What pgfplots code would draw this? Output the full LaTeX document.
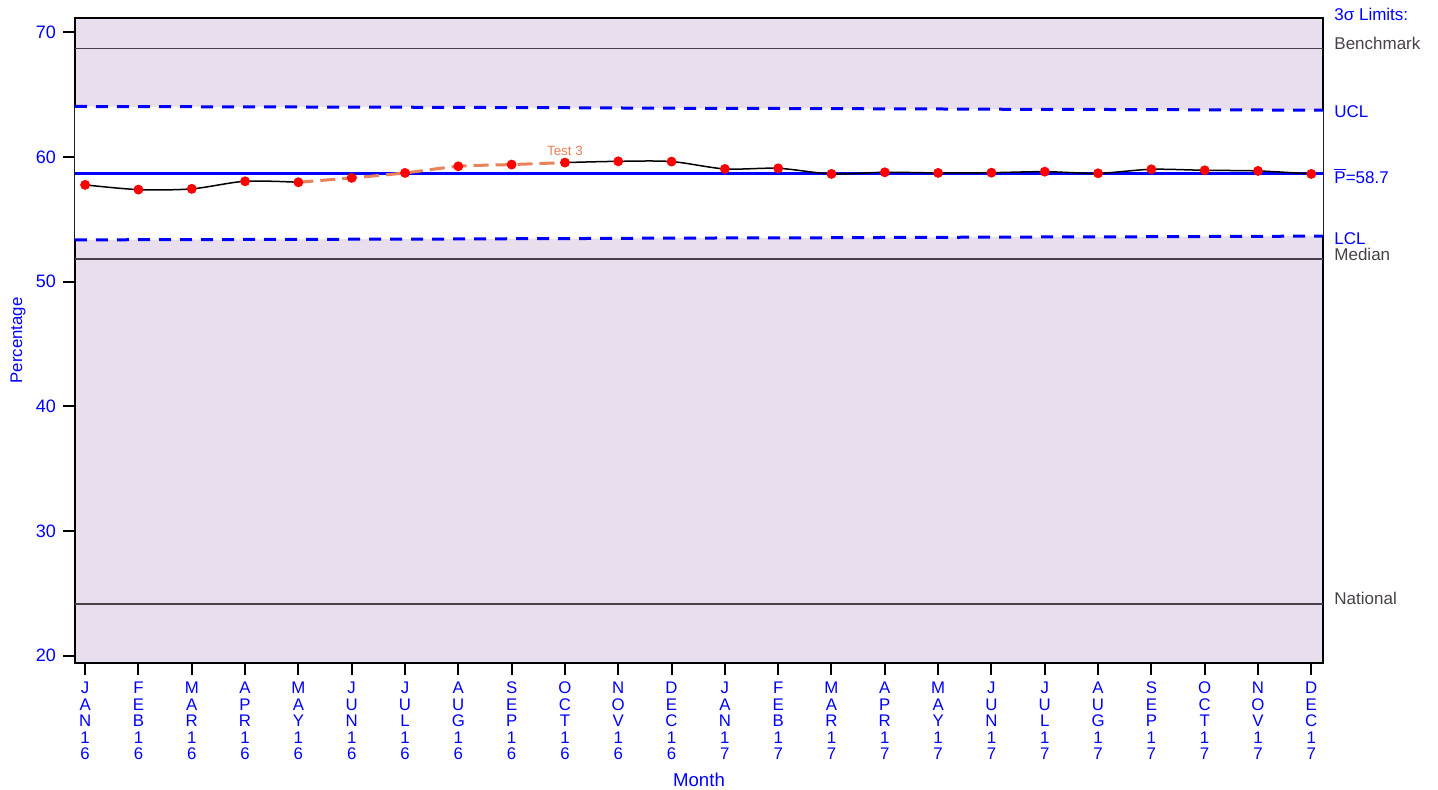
\documentclass[border=0pt]{standalone}
\usepackage{pgfplots}
\pgfplotsset{compat=1.18}
\usepackage{fontspec}
\setmainfont{Liberation Sans}
\definecolor{bgpurple}{RGB}{233,222,238}
\definecolor{refgray}{RGB}{72,64,72}
\definecolor{testorange}{RGB}{233,130,90}
\begin{document}
\begin{tikzpicture}
\begin{axis}[
  name=ax,
  scale only axis, width=624pt, height=322.5pt,
  xmin=-0.19, xmax=23.22, ymin=19.4, ymax=71.15,
  clip=false,
  axis background/.style={fill=bgpurple},
  axis line style={line width=1.3pt, black},
  tick align=outside, major tick length=6pt,
  tick style={line width=1pt, black},
  xtick pos=bottom, ytick pos=left,
  xtick={0,...,23},
  xticklabels={{J\\A\\N\\1\\6},{F\\E\\B\\1\\6},{M\\A\\R\\1\\6},{A\\P\\R\\1\\6},{M\\A\\Y\\1\\6},{J\\U\\N\\1\\6},{J\\U\\L\\1\\6},{A\\U\\G\\1\\6},{S\\E\\P\\1\\6},{O\\C\\T\\1\\6},{N\\O\\V\\1\\6},{D\\E\\C\\1\\6},
               {J\\A\\N\\1\\7},{F\\E\\B\\1\\7},{M\\A\\R\\1\\7},{A\\P\\R\\1\\7},{M\\A\\Y\\1\\7},{J\\U\\N\\1\\7},{J\\U\\L\\1\\7},{A\\U\\G\\1\\7},{S\\E\\P\\1\\7},{O\\C\\T\\1\\7},{N\\O\\V\\1\\7},{D\\E\\C\\1\\7}},
  xticklabel style={align=center, text=blue, font=\fontsize{8.4}{8.25}\selectfont},
  ytick={20,30,40,50,60,70},
  yticklabel style={text=blue, font=\fontsize{9}{10}\selectfont},
  /pgf/number format/assume math mode=true,
  xlabel={Month}, ylabel={Percentage},
  every axis x label/.style={at={(axis description cs:0.5,0)}, yshift=-58.5pt, anchor=center, text=blue, font=\fontsize{9.3}{11}\selectfont},
  every axis y label/.style={at={(axis description cs:0,0.5)}, rotate=90, yshift=28.5pt, anchor=center, text=blue, font=\fontsize{8.4}{10}\selectfont},
]
% white band between the control limits
\addplot[fill=white, draw=none] coordinates {
 (-0.19,64.05) (0,64.05) (1,64.04) (2,64.03) (3,64.02) (4,64.01) (5,64.00) (6,63.99) (7,63.98) (8,63.96) (9,63.95) (10,63.93) (11,63.91)
 (12,63.90) (13,63.89) (14,63.88) (15,63.86) (16,63.85) (17,63.83) (18,63.82) (19,63.81) (20,63.80) (21,63.78) (22,63.77) (23,63.75) (23.22,63.75)
 (23.22,53.65) (23,53.65) (22,53.63) (21,53.62) (20,53.60) (19,53.59) (18,53.58) (17,53.57) (16,53.55) (15,53.54) (14,53.52) (13,53.51) (12,53.50)
 (11,53.49) (10,53.47) (9,53.45) (8,53.44) (7,53.42) (6,53.41) (5,53.40) (4,53.39) (3,53.38) (2,53.37) (1,53.36) (0,53.35) (-0.19,53.35)
} -- cycle;
% reference lines
\addplot[refgray, line width=0.6pt] coordinates {(-0.19,68.68) (23.22,68.68)};
\addplot[refgray, line width=0.6pt] coordinates {(-0.19,51.82) (23.22,51.82)};
\addplot[refgray, line width=0.6pt] coordinates {(-0.19,24.13) (23.22,24.13)};
% UCL / LCL
\addplot[blue, line width=1.5pt, dash pattern=on 6pt off 4.5pt] coordinates {
 (-0.19,64.05) (0,64.05) (1,64.04) (2,64.03) (3,64.02) (4,64.01) (5,64.00) (6,63.99) (7,63.98) (8,63.96) (9,63.95) (10,63.93) (11,63.91)
 (12,63.90) (13,63.89) (14,63.88) (15,63.86) (16,63.85) (17,63.83) (18,63.82) (19,63.81) (20,63.80) (21,63.78) (22,63.77) (23,63.75) (23.22,63.75)};
\addplot[blue, line width=1.5pt, dash pattern=on 6pt off 4.5pt] coordinates {
 (-0.19,53.35) (0,53.35) (1,53.36) (2,53.37) (3,53.38) (4,53.39) (5,53.40) (6,53.41) (7,53.42) (8,53.44) (9,53.45) (10,53.47) (11,53.49)
 (12,53.50) (13,53.51) (14,53.52) (15,53.54) (16,53.55) (17,53.57) (18,53.58) (19,53.59) (20,53.60) (21,53.62) (22,53.63) (23,53.65) (23.22,53.65)};
% centre line
\addplot[blue, line width=1.5pt] coordinates {(-0.19,58.7) (23.22,58.7)};
% data line
\addplot[black, line width=0.75pt, smooth] coordinates {
 (0,57.76) (1,57.38) (2,57.44) (3,58.05) (4,57.97)};
\addplot[testorange, line width=1.5pt, smooth, dash pattern=on 7.5pt off 3.5pt] coordinates {
 (4,57.97) (5,58.32) (6,58.72) (7,59.25) (8,59.39) (9,59.55)};
\addplot[black, line width=0.75pt, smooth] coordinates {
 (9,59.55) (10,59.65) (11,59.63) (12,59.04) (13,59.09) (14,58.64) (15,58.77) (16,58.72) (17,58.74) (18,58.82) (19,58.69) (20,59.01) (21,58.93) (22,58.88) (23,58.64)};
\addplot[only marks, mark=*, mark size=2.25pt, red, mark options={draw=red, fill=red}] coordinates {
 (0,57.76) (1,57.38) (2,57.44) (3,58.05) (4,57.97) (5,58.32) (6,58.72) (7,59.25) (8,59.39) (9,59.55) (10,59.65) (11,59.63)
 (12,59.04) (13,59.09) (14,58.64) (15,58.77) (16,58.72) (17,58.74) (18,58.82) (19,58.69) (20,59.01) (21,58.93) (22,58.88) (23,58.64)};
% annotations
\node[text=testorange, font=\fontsize{6.7}{8}\selectfont] at (axis cs:9,60.48) {Test 3};
\node[anchor=west, inner sep=0pt, xshift=5.5pt, text=blue, font=\fontsize{8.5}{10}\selectfont] at (axis cs:23.22,71.4) {3σ Limits:};
\node[anchor=west, inner sep=0pt, xshift=5.5pt, text=refgray, font=\fontsize{8.5}{10}\selectfont] at (axis cs:23.22,69.13) {Benchmark};
\node[anchor=west, inner sep=0pt, xshift=5.5pt, text=blue, font=\fontsize{8.5}{10}\selectfont] at (axis cs:23.22,63.62) {UCL};
\node[anchor=west, inner sep=0pt, xshift=5.5pt, text=blue, font=\fontsize{8.5}{10}\selectfont] at (axis cs:23.22,58.48) {$\overline{\mbox{P}}$=58.7};
\node[anchor=west, inner sep=0pt, xshift=5.5pt, text=blue, font=\fontsize{8.5}{10}\selectfont] at (axis cs:23.22,53.46) {LCL};
\node[anchor=west, inner sep=0pt, xshift=5.5pt, text=refgray, font=\fontsize{8.5}{10}\selectfont] at (axis cs:23.22,52.18) {Median};
\node[anchor=west, inner sep=0pt, xshift=5.5pt, text=refgray, font=\fontsize{8.5}{10}\selectfont] at (axis cs:23.22,24.6) {National};
\end{axis}
\pgfresetboundingbox
\path[use as bounding box] ([xshift=-37.5pt,yshift=-63.5pt]ax.south west) rectangle ([xshift=57.5pt,yshift=9pt]ax.north east);
\end{tikzpicture}
\end{document}
